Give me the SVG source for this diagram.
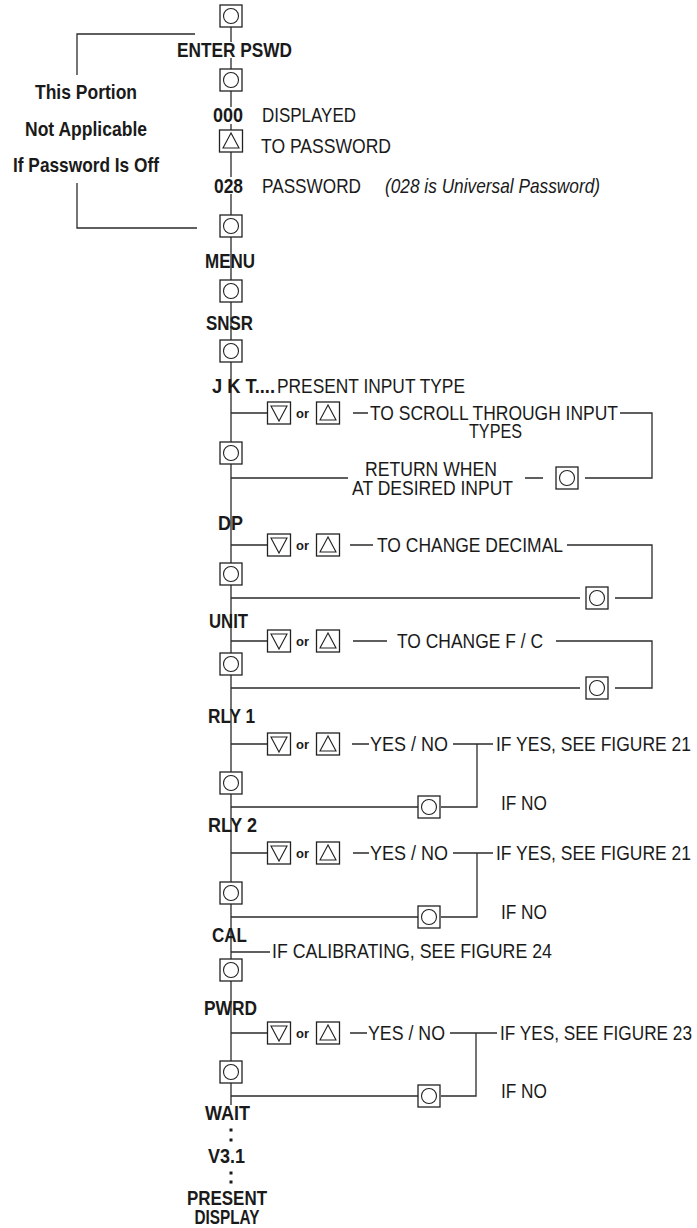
<svg xmlns="http://www.w3.org/2000/svg" width="697" height="1228" viewBox="0 0 697 1228">
<style>
.ln{stroke:#2b2b2b;stroke-width:1.3;fill:none}
.bx{fill:#fff;stroke:#222;stroke-width:1.3}
.sy{fill:none;stroke:#222;stroke-width:1.1}
text{font-family:"Liberation Sans",Arial,sans-serif;font-size:21px;fill:#1a1a1a}
.b{font-weight:bold}
.i{font-style:italic}
.or{font-weight:bold;font-size:13px}
</style>
<defs>
<g id="btn"><rect class="bx" x="-11" y="-11" width="22" height="22"/><circle class="sy" cx="0" cy="0" r="7.5"/></g>
<g id="dn"><rect class="bx" x="-11.5" y="-11" width="23" height="22"/><polygon class="sy" points="-8,-7 8,-7 0,8"/></g>
<g id="up"><rect class="bx" x="-11.5" y="-11" width="23" height="22"/><polygon class="sy" points="0,-8 -8,7 8,7"/></g>
</defs>
<rect width="697" height="1228" fill="#fff"/>
<g id="connectors">
<path class="ln" d="M231 27V42M231 58V69M231 91V107M231 124V130M231 152V177M231 194V215M231 237V1105"/>
<path class="ln" d="M195 34H77V75M77 183V228H197"/>
<path class="ln" d="M231 413H268M353 413H368M620 413H652V478H585M231 478H348M525 478H543"/>
<path class="ln" d="M231 545H268M350 545H373M567 545H652V598H615M231 598H580"/>
<path class="ln" d="M231 641H268M353 641H387M556 641H652V688H615M231 688H580"/>
<path class="ln" d="M231 744H268M352 744H369M453 744H493M477 744V807H441M231 807H418"/>
<path class="ln" d="M231 853H268M353 853H369M453 853H493M477 853V917H441M231 917H418"/>
<path class="ln" d="M231 952H270"/>
<path class="ln" d="M231 1033H268M350 1033H367M450 1033H497M476 1033V1096H441M231 1096H418"/>
</g>
<g id="note-password-off">
<text class="b" x="86" y="99" text-anchor="middle" textLength="102" lengthAdjust="spacingAndGlyphs">This Portion</text>
<text class="b" x="86" y="136" text-anchor="middle" textLength="122" lengthAdjust="spacingAndGlyphs">Not Applicable</text>
<text class="b" x="86" y="172" text-anchor="middle" textLength="146" lengthAdjust="spacingAndGlyphs">If Password Is Off</text>
</g>
<g id="n-btn1"><use href="#btn" x="231" y="16"/></g>
<g id="n-enter"><text class="b" x="177" y="57" textLength="115" lengthAdjust="spacingAndGlyphs">ENTER PSWD</text></g>
<g id="n-btn2"><use href="#btn" x="231" y="80"/></g>
<g id="n-000"><text class="b" x="213" y="122" textLength="30" lengthAdjust="spacingAndGlyphs">000</text><text x="262" y="122" textLength="94" lengthAdjust="spacingAndGlyphs">DISPLAYED</text></g>
<g id="n-up1"><use href="#up" x="231" y="141"/><text x="261" y="153" textLength="130" lengthAdjust="spacingAndGlyphs">TO PASSWORD</text></g>
<g id="n-028"><text class="b" x="214" y="193" textLength="29" lengthAdjust="spacingAndGlyphs">028</text><text x="262" y="193" textLength="99" lengthAdjust="spacingAndGlyphs">PASSWORD</text><text class="i" x="385" y="193" textLength="215" lengthAdjust="spacingAndGlyphs">(028 is Universal Password)</text></g>
<g id="n-btn3"><use href="#btn" x="231" y="226"/></g>
<g id="n-menu"><text class="b" x="205" y="268" textLength="50" lengthAdjust="spacingAndGlyphs">MENU</text></g>
<g id="n-btn4"><use href="#btn" x="231" y="291"/></g>
<g id="n-snsr"><text class="b" x="206" y="330" textLength="47" lengthAdjust="spacingAndGlyphs">SNSR</text></g>
<g id="n-btn5"><use href="#btn" x="231" y="351"/></g>
<g id="n-jkt"><text class="b" x="212" y="393" textLength="63" lengthAdjust="spacingAndGlyphs">J K T....</text><text x="277" y="393" textLength="188" lengthAdjust="spacingAndGlyphs">PRESENT INPUT TYPE</text></g>
<g id="n-jkt-scroll"><use href="#dn" x="279" y="413"/><text class="or" x="296" y="418">or</text><use href="#up" x="328" y="413"/>
<text x="370" y="420" textLength="248" lengthAdjust="spacingAndGlyphs">TO SCROLL THROUGH INPUT</text>
<text x="469" y="438" textLength="53" lengthAdjust="spacingAndGlyphs">TYPES</text></g>
<g id="n-jkt-btn"><use href="#btn" x="231" y="453"/></g>
<g id="n-jkt-return"><text x="365" y="476" textLength="132" lengthAdjust="spacingAndGlyphs">RETURN WHEN</text><text x="352" y="495" textLength="161" lengthAdjust="spacingAndGlyphs">AT DESIRED INPUT</text><use href="#btn" x="567" y="478"/></g>
<g id="n-dp"><text class="b" x="218" y="530" textLength="25" lengthAdjust="spacingAndGlyphs">DP</text></g>
<g id="n-dp-change"><use href="#dn" x="279" y="545"/><text class="or" x="296" y="550">or</text><use href="#up" x="328" y="545"/><text x="377" y="552" textLength="186" lengthAdjust="spacingAndGlyphs">TO CHANGE DECIMAL</text></g>
<g id="n-dp-btn"><use href="#btn" x="231" y="574"/></g>
<g id="n-dp-return"><use href="#btn" x="597" y="598"/></g>
<g id="n-unit"><text class="b" x="209" y="628" textLength="39" lengthAdjust="spacingAndGlyphs">UNIT</text></g>
<g id="n-unit-change"><use href="#dn" x="279" y="641"/><text class="or" x="296" y="646">or</text><use href="#up" x="328" y="641"/><text x="397" y="648" textLength="146" lengthAdjust="spacingAndGlyphs">TO CHANGE F / C</text></g>
<g id="n-unit-btn"><use href="#btn" x="231" y="664"/></g>
<g id="n-unit-return"><use href="#btn" x="597" y="688"/></g>
<g id="n-rly1"><text class="b" x="208" y="723" textLength="47" lengthAdjust="spacingAndGlyphs">RLY 1</text></g>
<g id="n-rly1-change"><use href="#dn" x="279" y="744"/><text class="or" x="296" y="749">or</text><use href="#up" x="328" y="744"/><text x="370" y="751" textLength="78" lengthAdjust="spacingAndGlyphs">YES / NO</text><text x="496" y="751" textLength="195" lengthAdjust="spacingAndGlyphs">IF YES, SEE FIGURE 21</text></g>
<g id="n-rly1-btn"><use href="#btn" x="231" y="783"/></g>
<g id="n-rly1-return"><use href="#btn" x="429" y="807"/><text x="501" y="810" textLength="46" lengthAdjust="spacingAndGlyphs">IF NO</text></g>
<g id="n-rly2"><text class="b" x="208" y="832" textLength="49" lengthAdjust="spacingAndGlyphs">RLY 2</text></g>
<g id="n-rly2-change"><use href="#dn" x="279" y="853"/><text class="or" x="296" y="858">or</text><use href="#up" x="328" y="853"/><text x="370" y="860" textLength="78" lengthAdjust="spacingAndGlyphs">YES / NO</text><text x="496" y="860" textLength="195" lengthAdjust="spacingAndGlyphs">IF YES, SEE FIGURE 21</text></g>
<g id="n-rly2-btn"><use href="#btn" x="231" y="893"/></g>
<g id="n-rly2-return"><use href="#btn" x="429" y="917"/><text x="501" y="919" textLength="46" lengthAdjust="spacingAndGlyphs">IF NO</text></g>
<g id="n-cal"><text class="b" x="212" y="942" textLength="35" lengthAdjust="spacingAndGlyphs">CAL</text><text x="272" y="958" textLength="280" lengthAdjust="spacingAndGlyphs">IF CALIBRATING, SEE FIGURE 24</text></g>
<g id="n-cal-btn"><use href="#btn" x="231" y="970"/></g>
<g id="n-pwrd"><text class="b" x="204" y="1015" textLength="53" lengthAdjust="spacingAndGlyphs">PWRD</text></g>
<g id="n-pwrd-change"><use href="#dn" x="279" y="1033"/><text class="or" x="296" y="1038">or</text><use href="#up" x="328" y="1033"/><text x="368" y="1040" textLength="77" lengthAdjust="spacingAndGlyphs">YES / NO</text><text x="500" y="1040" textLength="192" lengthAdjust="spacingAndGlyphs">IF YES, SEE FIGURE 23</text></g>
<g id="n-pwrd-btn"><use href="#btn" x="231" y="1072"/></g>
<g id="n-pwrd-return"><use href="#btn" x="429" y="1096"/><text x="501" y="1098" textLength="46" lengthAdjust="spacingAndGlyphs">IF NO</text></g>
<g id="n-wait"><text class="b" x="205" y="1120" textLength="45" lengthAdjust="spacingAndGlyphs">WAIT</text></g>
<g id="n-dots1"><rect x="229.5" y="1128.5" width="3" height="3" fill="#1a1a1a"/><rect x="229.5" y="1138.5" width="3" height="3" fill="#1a1a1a"/></g>
<g id="n-v31"><text class="b" x="208" y="1163" textLength="37" lengthAdjust="spacingAndGlyphs">V3.1</text></g>
<g id="n-dots2"><rect x="229.5" y="1171.5" width="3" height="3" fill="#1a1a1a"/><rect x="229.5" y="1180.5" width="3" height="3" fill="#1a1a1a"/></g>
<g id="n-present"><text class="b" x="227" y="1205" text-anchor="middle" textLength="80" lengthAdjust="spacingAndGlyphs">PRESENT</text><text class="b" x="227" y="1224" text-anchor="middle" textLength="65" lengthAdjust="spacingAndGlyphs">DISPLAY</text></g>
</svg>
